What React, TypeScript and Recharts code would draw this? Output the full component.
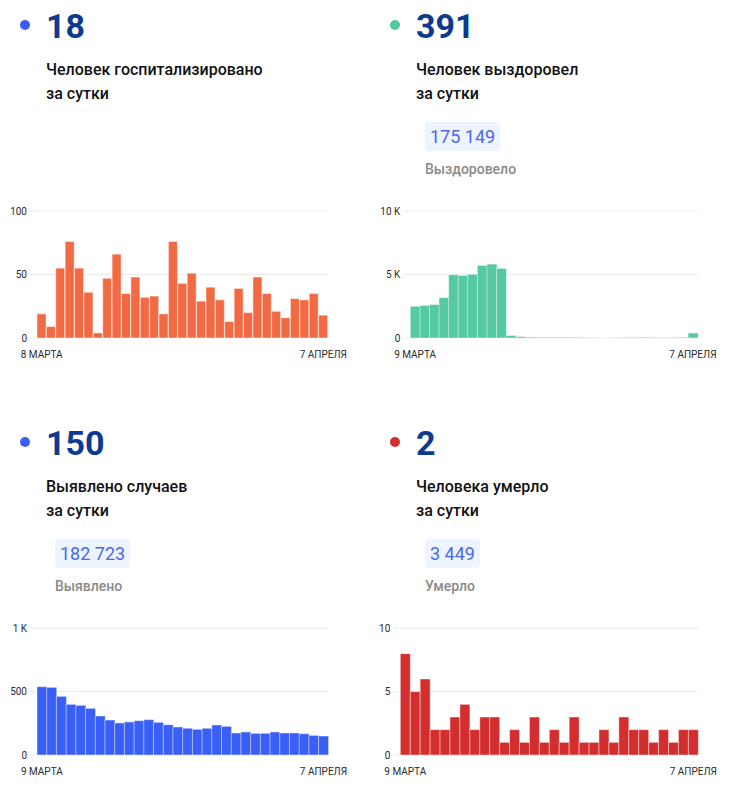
import React from "react";
import { BarChart, Bar, XAxis, YAxis, CartesianGrid } from "recharts";

// days 8 марта .. 7 апреля
const daysFrom8Mar = [
  "8 марта", "9 марта", "10 марта", "11 марта", "12 марта", "13 марта", "14 марта",
  "15 марта", "16 марта", "17 марта", "18 марта", "19 марта", "20 марта", "21 марта",
  "22 марта", "23 марта", "24 марта", "25 марта", "26 марта", "27 марта", "28 марта",
  "29 марта", "30 марта", "31 марта", "1 апреля", "2 апреля", "3 апреля", "4 апреля",
  "5 апреля", "6 апреля", "7 апреля",
];
const daysFrom9Mar = daysFrom8Mar.slice(1);

const hospitalized = [
  19, 9, 55, 76, 55, 36, 4, 47, 66, 35, 48, 32, 33, 19, 76, 43, 51, 29, 40, 30, 13, 39,
  20, 48, 35, 21, 16, 31, 30, 35, 18,
];
const recovered = [
  2500, 2560, 2630, 3180, 4980, 4920, 5020, 5720, 5820, 5480, 200, 110, 70, 60, 60, 60,
  60, 50, 40, 20, 10, 30, 50, 50, 60, 50, 40, 50, 60, 391,
];
const detected = [
  539, 534, 463, 400, 392, 368, 308, 276, 253, 261, 271, 279, 258, 239, 221, 211, 203,
  211, 237, 226, 174, 182, 171, 171, 182, 174, 174, 168, 155, 150,
];
const deaths = [
  8, 5, 6, 2, 2, 3, 4, 2, 3, 3, 1, 2, 1, 3, 1, 2, 1, 3, 1, 1, 2, 1, 3, 2, 2, 1, 2, 1, 2, 2,
];

const hospTicks = [0, 50, 100];
const recTicks = [0, 5000, 10000];
const detTicks = [0, 500, 1000];
const deathTicks = [0, 5, 10];

const kFormat = (v: number) => (v >= 1000 ? `${v / 1000} K` : `${v}`);

const toRows = (days: string[], vals: number[]) =>
  days.map((day, i) => ({ day, value: vals[i] }));

interface MiniChartProps {
  days: string[];
  values: number[];
  ticks: number[];
  color: string;
  box: { left: number; top: number; width: number; height: number };
  plot: { x0: number; x1: number; y0: number; y1: number };
  format?: (v: number) => string;
}

function MiniChart({ days, values, ticks, color, box, plot, format }: MiniChartProps) {
  const data = toRows(days, values);
  const xAxisH = 30;
  const margin = {
    top: plot.y0 - box.top,
    right: box.left + box.width - plot.x1,
    bottom: box.top + box.height - plot.y1 - xAxisH,
    left: 0,
  };
  return (
    <div style={{ position: "absolute", left: box.left, top: box.top }}>
      <BarChart
        width={box.width}
        height={box.height}
        data={data}
        margin={margin}
        barCategoryGap={0}
      >
        <CartesianGrid vertical={false} stroke="#ececec" />
        <XAxis
          dataKey="day"
          ticks={[days[0], days[days.length - 1]]}
          interval={0}
          axisLine={false}
          tickLine={false}
          tickSize={0}
          tickMargin={13}
          height={xAxisH}
          padding={{ left: 7, right: 0 }}
          tickFormatter={(d: string) => d.toUpperCase()}
          tick={{ fill: "#2a2a2a", fontSize: 10 }}
        />
        <YAxis
          width={plot.x0 - box.left}
          domain={[ticks[0], ticks[ticks.length - 1]]}
          ticks={ticks}
          axisLine={false}
          tickLine={false}
          tickSize={0}
          tickMargin={3}
          tickFormatter={format}
          tick={{ fill: "#2a2a2a", fontSize: 10 }}
        />
        <Bar
          dataKey="value"
          fill={color}
          stroke="rgba(255,255,255,0.45)"
          strokeWidth={1}
          isAnimationActive={false}
        />
      </BarChart>
    </div>
  );
}

interface HeaderProps {
  left: number;
  top: number;
  dot: string;
  number: string;
  lines: string[];
  total?: string;
  totalLabel?: string;
}

function Header({ left, top, dot, number, lines, total, totalLabel }: HeaderProps) {
  return (
    <>
      <div
        style={{
          position: "absolute",
          left: left + 20,
          top: top + 20,
          width: 10,
          height: 10,
          borderRadius: 5,
          background: dot,
        }}
      />
      <div
        style={{
          position: "absolute",
          left: left + 46,
          top: top + 8.5,
          fontSize: 34,
          lineHeight: "34px",
          fontWeight: 700,
          color: "#0c3a8e",
        }}
      >
        {number}
      </div>
      <div
        style={{
          position: "absolute",
          left: left + 46,
          top: top + 57.5,
          fontSize: 16,
          lineHeight: "24px",
          fontWeight: 500,
          color: "#111",
          whiteSpace: "nowrap",
        }}
      >
        {lines.map((l) => (
          <div key={l}>{l}</div>
        ))}
      </div>
      {total && (
        <div
          style={{
            position: "absolute",
            left: left + 55,
            top: top + 122,
            height: 29,
            padding: "0 5px",
            borderRadius: 4,
            background: "#eef4fe",
            fontSize: 18,
            lineHeight: "29px",
            color: "#4a67f2",
          }}
        >
          {total}
        </div>
      )}
      {totalLabel && (
        <div
          style={{
            position: "absolute",
            left: left + 55,
            top: top + 159,
            fontSize: 14,
            lineHeight: "20px",
            fontWeight: 500,
            color: "#8a8a8a",
          }}
        >
          {totalLabel}
        </div>
      )}
    </>
  );
}

export default function App() {
  return (
    <div
      style={{
        position: "relative",
        width: 735,
        height: 807,
        fontFamily: "Roboto, sans-serif",
        background: "#fff",
      }}
    >
      <style>{`body{margin:0}`}</style>
      <Header
        left={0}
        top={0}
        dot="#3b5cf5"
        number="18"
        lines={["Человек госпитализировано", "за сутки"]}
      />
      <Header
        left={370}
        top={0}
        dot="#52c9a2"
        number="391"
        lines={["Человек выздоровел", "за сутки"]}
        total="175 149"
        totalLabel="Выздоровело"
      />
      <Header
        left={0}
        top={417}
        dot="#3b5cf5"
        number="150"
        lines={["Выявлено случаев", "за сутки"]}
        total="182 723"
        totalLabel="Выявлено"
      />
      <Header
        left={370}
        top={417}
        dot="#d32f2f"
        number="2"
        lines={["Человека умерло", "за сутки"]}
        total="3 449"
        totalLabel="Умерло"
      />

      <MiniChart
        days={daysFrom8Mar}
        values={hospitalized}
        ticks={hospTicks}
        color="#f26a43"
        box={{ left: 0, top: 195, width: 360, height: 180 }}
        plot={{ x0: 30, x1: 328, y0: 211, y1: 338 }}
      />
      <MiniChart
        days={daysFrom9Mar}
        values={recovered}
        ticks={recTicks}
        color="#54c9a3"
        box={{ left: 360, top: 195, width: 375, height: 180 }}
        plot={{ x0: 403.3, x1: 697.7, y0: 211, y1: 338 }}
        format={kFormat}
      />
      <MiniChart
        days={daysFrom9Mar}
        values={detected}
        ticks={detTicks}
        color="#3a5ff6"
        box={{ left: 0, top: 612, width: 360, height: 180 }}
        plot={{ x0: 30, x1: 328.3, y0: 628.3, y1: 755 }}
        format={kFormat}
      />
      <MiniChart
        days={daysFrom9Mar}
        values={deaths}
        ticks={deathTicks}
        color="#d32d2d"
        box={{ left: 360, top: 612, width: 375, height: 180 }}
        plot={{ x0: 393.3, x1: 698.3, y0: 628.3, y1: 755 }}
      />
    </div>
  );
}
